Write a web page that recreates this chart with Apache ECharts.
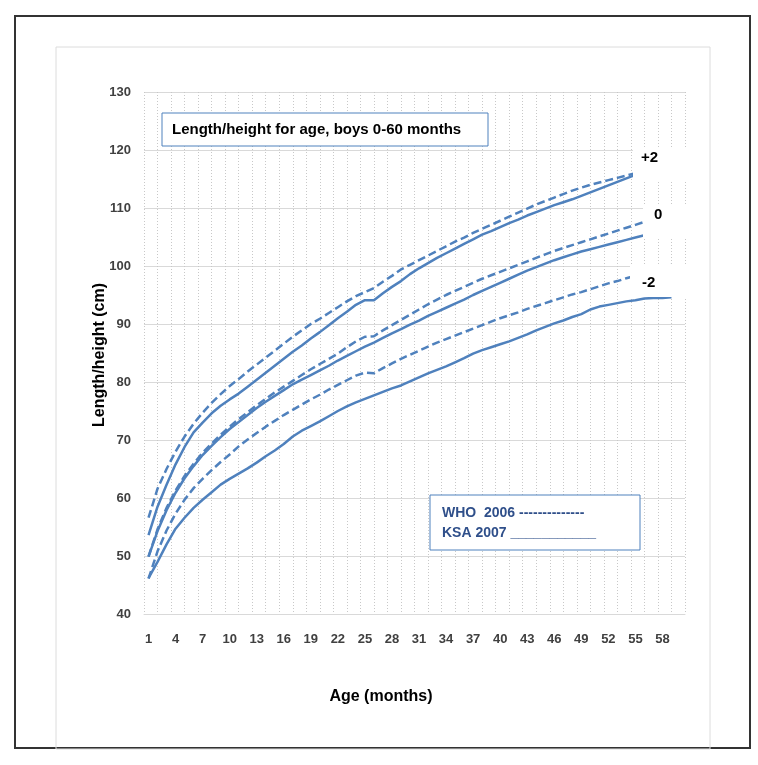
<!DOCTYPE html>
<html>
<head>
<meta charset="utf-8">
<title>Length/height for age, boys 0-60 months</title>
<script src="https://cdn.jsdelivr.net/npm/echarts@6/dist/echarts.min.js"></script>
<style>
  html, body { margin: 0; padding: 0; background: #ffffff; }
  #chart { width: 758px; height: 765px; }
</style>
</head>
<body>
<div id="chart"></div>
<script>
// age categories (months), labels shown every 3rd
var months = [];
for (var i = 1; i <= 60; i++) months.push(String(i));

// WHO 2006 (dashed) and KSA 2007 (solid), z-scores -2 / 0 / +2
var whoPlus2 = [56.6, 61.6, 65.0, 68.0, 70.6, 72.8, 74.7, 76.4, 77.9, 79.3,
  80.5, 81.8, 83.0, 84.2, 85.4, 86.6, 87.8, 88.9, 90.0, 90.9,
  91.9, 92.9, 93.9, 94.8, 95.5, 96.2, 97.3, 98.3, 99.4, 100.2,
  101.0, 101.8, 102.6, 103.4, 104.2, 104.9, 105.7, 106.4, 107.1, 107.8,
  108.5, 109.2, 109.9, 110.6, 111.2, 111.8, 112.4, 113.0, 113.5, 114.0,
  114.4, 114.8, 115.2, 115.6, 116.0, 116.5, 117.0, 117.5, 118.0];
var ksaPlus2 = [53.6, 58.5, 62.3, 65.8, 68.8, 71.3, 73.0, 74.6, 75.9, 77.0,
  78.0, 79.2, 80.4, 81.6, 82.8, 84.0, 85.2, 86.3, 87.5, 88.6,
  89.8, 91.0, 92.1, 93.3, 94.1, 94.1, 95.3, 96.4, 97.4, 98.6,
  99.6, 100.5, 101.4, 102.2, 103.0, 103.8, 104.6, 105.4, 106.0, 106.7,
  107.4, 108.0, 108.7, 109.3, 109.9, 110.5, 111.0, 111.5, 112.1, 112.7,
  113.3, 113.9, 114.5, 115.1, 115.7, 116.3, 116.9, 117.5, 118.1];
var whoMedian = [49.9, 54.6, 58.3, 61.3, 63.8, 65.9, 67.8, 69.4, 70.9, 72.3,
  73.6, 74.8, 76.0, 77.1, 78.2, 79.2, 80.2, 81.2, 82.2, 83.1,
  84.0, 84.9, 86.0, 87.0, 87.8, 87.9, 88.9, 89.8, 90.7, 91.6,
  92.5, 93.4, 94.2, 95.0, 95.7, 96.4, 97.1, 97.8, 98.4, 99.0,
  99.6, 100.2, 100.8, 101.4, 102.0, 102.6, 103.1, 103.6, 104.1, 104.6,
  105.1, 105.6, 106.1, 106.6, 107.1, 107.6, 108.1, 108.6, 109.1];
var ksaMedian = [49.9, 54.3, 57.9, 60.9, 63.4, 65.5, 67.4, 69.0, 70.5, 71.9,
  73.1, 74.3, 75.5, 76.6, 77.6, 78.6, 79.6, 80.4, 81.2, 82.0,
  82.8, 83.7, 84.5, 85.3, 86.1, 86.8, 87.6, 88.4, 89.1, 89.9,
  90.6, 91.4, 92.1, 92.8, 93.5, 94.2, 95.0, 95.7, 96.4, 97.1,
  97.8, 98.5, 99.2, 99.8, 100.4, 101.0, 101.5, 102.0, 102.5, 102.9,
  103.3, 103.7, 104.1, 104.5, 104.9, 105.3, 105.7, 106.1, 106.5];
var whoMinus2 = [46.1, 50.8, 54.4, 57.3, 59.7, 61.7, 63.3, 64.8, 66.2, 67.5,
  68.9, 70.1, 71.2, 72.3, 73.3, 74.3, 75.2, 76.1, 77.0, 77.8,
  78.7, 79.5, 80.3, 81.1, 81.6, 81.5, 82.4, 83.2, 84.0, 84.7,
  85.4, 86.1, 86.8, 87.4, 88.0, 88.6, 89.2, 89.8, 90.4, 91.0,
  91.5, 92.0, 92.6, 93.1, 93.6, 94.1, 94.6, 95.1, 95.5, 96.0,
  96.5, 97.0, 97.4, 97.9, 98.3, 98.8, 99.3, 99.7, 100.2];
var ksaMinus2 = [46.2, 49.0, 52.0, 54.7, 56.6, 58.3, 59.7, 61.0, 62.3, 63.3,
  64.2, 65.1, 66.1, 67.2, 68.2, 69.3, 70.6, 71.6, 72.4, 73.2,
  74.1, 75.0, 75.8, 76.5, 77.1, 77.7, 78.3, 78.9, 79.4, 80.1,
  80.8, 81.5, 82.1, 82.7, 83.4, 84.1, 84.9, 85.5, 86.0, 86.5,
  87.0, 87.6, 88.2, 88.9, 89.5, 90.1, 90.6, 91.2, 91.7, 92.5,
  93.0, 93.3, 93.6, 93.9, 94.1, 94.4, 94.5, 94.5, 94.6];

var lineBlue = '#4f81bd';
var font = 'Liberation Sans, Arial, sans-serif';

function curve(name, data, dashed) {
  return {
    name: name,
    type: 'line',
    data: data,
    symbol: 'none',
    lineStyle: {
      color: lineBlue,
      width: 2.5,
      type: dashed ? [8, 4] : 'solid'
    },
    z: 3
  };
}

var chart = echarts.init(document.getElementById('chart'));
chart.setOption({
  backgroundColor: '#ffffff',
  animation: false,
  grid: { left: 144, right: 73, top: 92, bottom: 151 },
  xAxis: [
    {
      type: 'category',
      data: months,
      boundaryGap: true,
      axisLine: { lineStyle: { color: '#d9d9d9', width: 1 } },
      axisTick: { show: false },
      axisLabel: {
        interval: 2,
        margin: 19,
        color: '#404040',
        fontWeight: 'bold',
        fontSize: 13,
        fontFamily: font
      },
      splitLine: { show: false }
    },
    {
      // dotted vertical gridlines
      type: 'value',
      position: 'top',
      min: 0,
      max: 40,
      interval: 1,
      axisLine: { show: false },
      axisTick: { show: false },
      axisLabel: { show: false },
      splitLine: { show: true, lineStyle: { color: '#c8c8c8', type: [1, 2], width: 1 } }
    }
  ],
  yAxis: {
    type: 'value',
    min: 40,
    max: 130,
    interval: 10,
    axisLine: { show: false },
    axisTick: { show: false },
    axisLabel: {
      margin: 13,
      color: '#404040',
      fontWeight: 'bold',
      fontSize: 13,
      fontFamily: font
    },
    splitLine: { lineStyle: { color: '#d9d9d9', width: 1 } }
  },
  series: [
    curve('WHO +2', whoPlus2, true),
    curve('KSA +2', ksaPlus2, false),
    curve('WHO 0', whoMedian, true),
    curve('KSA 0', ksaMedian, false),
    curve('WHO -2', whoMinus2, true),
    curve('KSA -2', ksaMinus2, false)
  ],
  graphic: [
    // outer frame and inner chart border
    { type: 'rect', shape: { x: 15, y: 16, width: 735, height: 732 },
      style: { fill: null, stroke: '#333333', lineWidth: 2 }, z: 1 },
    { type: 'rect', shape: { x: 56, y: 47, width: 654, height: 702 },
      style: { fill: null, stroke: '#dcdcdc', lineWidth: 1 }, z: 1 },
    // title box
    { type: 'rect', shape: { x: 162, y: 113, width: 326, height: 33 },
      style: { fill: '#ffffff', stroke: lineBlue, lineWidth: 1 }, z: 100 },
    { type: 'text', x: 172, y: 130, z: 101,
      style: { text: 'Length/height for age, boys 0-60 months', fill: '#000000',
        font: 'bold 15px ' + font, textVerticalAlign: 'middle' } },
    // z-score labels on white boxes
    { type: 'rect', shape: { x: 633, y: 148, width: 67, height: 33 },
      style: { fill: '#ffffff' }, z: 100 },
    { type: 'text', x: 641, y: 158, z: 101,
      style: { text: '+2', fill: '#000000', font: 'bold 15px ' + font, textVerticalAlign: 'middle' } },
    { type: 'rect', shape: { x: 643, y: 206, width: 57, height: 32 },
      style: { fill: '#ffffff' }, z: 100 },
    { type: 'text', x: 654, y: 215, z: 101,
      style: { text: '0', fill: '#000000', font: 'bold 15px ' + font, textVerticalAlign: 'middle' } },
    { type: 'rect', shape: { x: 630, y: 264, width: 70, height: 33 },
      style: { fill: '#ffffff' }, z: 100 },
    { type: 'text', x: 642, y: 283, z: 101,
      style: { text: '-2', fill: '#000000', font: 'bold 15px ' + font, textVerticalAlign: 'middle' } },
    // legend box
    { type: 'rect', shape: { x: 430, y: 495, width: 210, height: 55 },
      style: { fill: '#ffffff', stroke: lineBlue, lineWidth: 1 }, z: 100 },
    { type: 'text', x: 442, y: 513, z: 101,
      style: { text: 'WHO  2006 --------------', fill: '#2f4f8a',
        font: 'bold 14px ' + font, textVerticalAlign: 'middle' } },
    { type: 'text', x: 442, y: 533, z: 101,
      style: { text: 'KSA 2007 ___________', fill: '#2f4f8a',
        font: 'bold 14px ' + font, textVerticalAlign: 'middle' } },
    // axis titles
    { type: 'text', x: 381, y: 697, z: 101,
      style: { text: 'Age (months)', fill: '#000000', font: 'bold 16px ' + font,
        textAlign: 'center', textVerticalAlign: 'middle' } },
    { type: 'text', x: 100, y: 355, rotation: Math.PI / 2, z: 101,
      style: { text: 'Length/height (cm)', fill: '#000000', font: 'bold 16px ' + font,
        textAlign: 'center', textVerticalAlign: 'middle' } }
  ]
});
</script>
</body>
</html>
